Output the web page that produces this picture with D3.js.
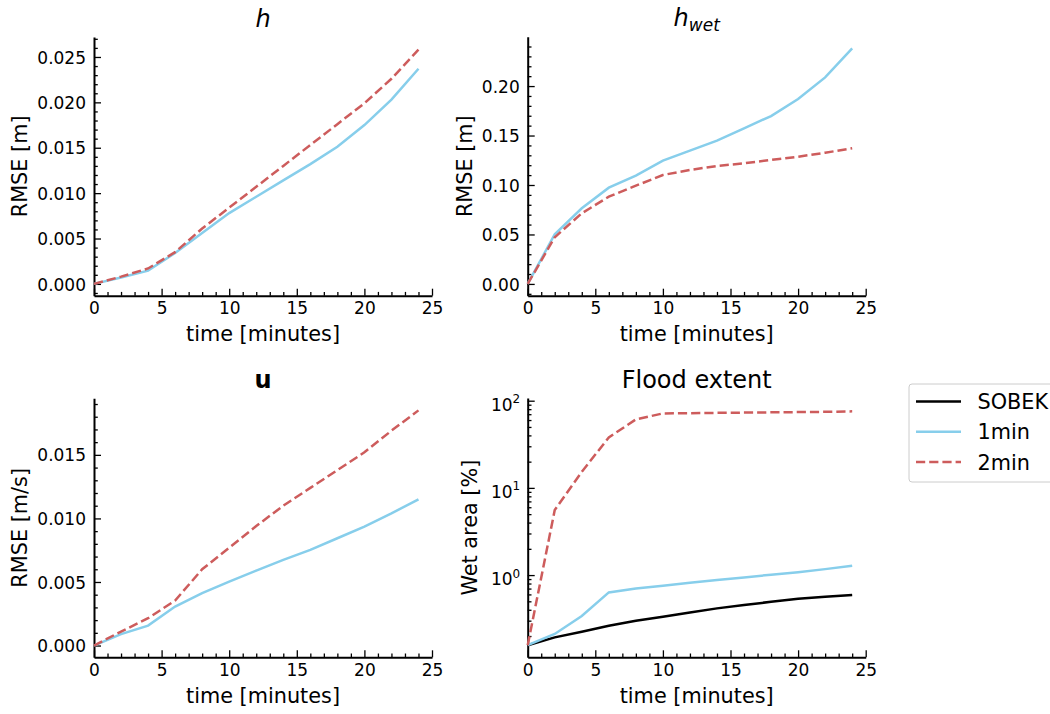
<!DOCTYPE html>
<html>
<head>
<meta charset="utf-8">
<script src="https://cdn.jsdelivr.net/npm/d3@7"></script>
<style>
  body { margin: 0; background: #fff; }
  svg text { font-family: "DejaVu Sans", sans-serif; fill: #000; }
</style>
</head>
<body>
<svg id="chart" width="1050" height="714"></svg>
<script>
// ------------------------------------------------------------
// data
// ------------------------------------------------------------
const times = [0, 2, 4, 6, 8, 10, 12, 14, 16, 18, 20, 22, 24];

const hOneMin = [0, 0.0007, 0.00146, 0.0034, 0.0056, 0.0078, 0.0096, 0.0114, 0.0132, 0.0151, 0.0175, 0.0203, 0.0237];
const hTwoMin = [0, 0.0008, 0.0017, 0.0035, 0.0061, 0.0084, 0.0107, 0.0130, 0.0153, 0.0176, 0.0199, 0.0226, 0.0258];

const hwetOneMin = [0, 0.0502, 0.0765, 0.0973, 0.1094, 0.1246, 0.1347, 0.1448, 0.1573, 0.1697, 0.1869, 0.2088, 0.238];
const hwetTwoMin = [0, 0.0472, 0.0714, 0.0882, 0.0993, 0.1101, 0.1152, 0.1192, 0.1219, 0.1253, 0.1286, 0.1326, 0.1371];

const uOneMin = [0, 0.0009, 0.00157, 0.00307, 0.00412, 0.00503, 0.0059, 0.00674, 0.00752, 0.00844, 0.00936, 0.0104, 0.0115];
const uTwoMin = [0, 0.0011, 0.00215, 0.00354, 0.0060, 0.0077, 0.0094, 0.0110, 0.0124, 0.0138, 0.0152, 0.0169, 0.0185];

const extentSobek = [0.157, 0.193, 0.224, 0.262, 0.299, 0.333, 0.373, 0.415, 0.453, 0.494, 0.535, 0.564, 0.59];
const extentOneMin = [0.157, 0.211, 0.339, 0.633, 0.703, 0.755, 0.817, 0.877, 0.94, 1.01, 1.08, 1.17, 1.28];
const extentTwoMin = [0.157, 5.57, 15.3, 37.9, 61, 71.5, 72, 72.5, 73, 73.5, 74, 74.5, 75.5];

const xTicks = [0, 5, 10, 15, 20, 25];
const hTicks = [0, 0.005, 0.01, 0.015, 0.02, 0.025];
const hwetTicks = [0, 0.05, 0.1, 0.15, 0.2];
const uTicks = [0, 0.005, 0.01, 0.015];
const extentTicks = [1, 10, 100];

const seriesNames = ['SOBEK', '1min', '2min'];
const seriesColors = { SOBEK: '#000000', '1min': '#87ceeb', '2min': '#cd5c5c' };

// ------------------------------------------------------------
// drawing
// ------------------------------------------------------------
const svg = d3.select('#chart');
const FONT = '"DejaVu Sans", sans-serif';
const LINE_W = 2.5;
const DASH = '9.2,4';

function styleAxis(g, fontSize) {
  g.attr('font-family', FONT).attr('font-size', fontSize);
  g.select('.domain').attr('stroke', '#000').attr('stroke-width', 2);
  g.selectAll('.tick line').attr('stroke', '#000').attr('stroke-width', 1.3);
  g.selectAll('.tick text').attr('fill', '#000');
}

function drawPanel(p) {
  const g = svg.append('g');

  const x = d3.scaleLinear().domain([0, 25]).range([p.left, p.right]);
  const y = (p.log ? d3.scaleLog() : d3.scaleLinear()).domain(p.yDomain).range([p.bottom, p.top]);

  // minor ticks first (drawn under majors)
  const xMinor = d3.range(0, 26).filter((d) => d % 5 !== 0);
  g.append('g')
    .attr('transform', `translate(0,${p.bottom})`)
    .call(d3.axisBottom(x).tickValues(xMinor).tickSize(-3.8).tickFormat(''))
    .call((a) => { a.select('.domain').remove(); styleAxis(a, 17); });

  g.append('g')
    .attr('transform', `translate(${p.left},0)`)
    .call(d3.axisLeft(y).tickValues(p.yMinor).tickSize(-3.8).tickFormat(''))
    .call((a) => { a.select('.domain').remove(); styleAxis(a, 17); });

  // major x axis
  g.append('g')
    .attr('transform', `translate(0,${p.bottom})`)
    .call(d3.axisBottom(x).tickValues(xTicks).tickSize(-7).tickSizeOuter(0).tickPadding(6.5).tickFormat(d3.format('d')))
    .call((a) => styleAxis(a, 17));

  // major y axis
  const yAxis = g.append('g')
    .attr('transform', `translate(${p.left},0)`)
    .call(d3.axisLeft(y).tickValues(p.yTicks).tickSize(-7).tickSizeOuter(0).tickPadding(p.log ? 7.5 : 8)
      .tickFormat(p.log ? () => '' : d3.format(p.fmt)))
    .call((a) => styleAxis(a, 17));

  if (p.log) {
    yAxis.selectAll('.tick text').each(function (d) {
      const t = d3.select(this).attr('dy', 9.3);
      t.append('tspan').text('10');
      t.append('tspan').attr('dy', -7.3).attr('font-size', 12).text(Math.round(Math.log10(d)));
    });
  } else {
    yAxis.selectAll('.tick text').attr('dy', '0.36em');
  }

  // lines
  p.series.forEach((s) => {
    const line = d3.line().x((d, i) => x(times[i])).y((d) => y(d));
    g.append('path')
      .datum(s.values)
      .attr('fill', 'none')
      .attr('stroke', seriesColors[s.name])
      .attr('stroke-width', LINE_W)
      .attr('stroke-dasharray', s.name === '2min' ? DASH : null)
      .attr('d', line);
  });

  // title
  const title = g.append('text')
    .attr('x', (p.left + p.right) / 2)
    .attr('y', p.top - 10.5)
    .attr('text-anchor', 'middle')
    .attr('font-size', 24);
  p.title(title);

  // axis labels
  g.append('text')
    .attr('x', (p.left + p.right) / 2)
    .attr('y', p.bottom + 45.5)
    .attr('text-anchor', 'middle')
    .attr('font-size', 20.8)
    .text('time [minutes]');

  g.append('text')
    .attr('transform', `translate(${p.yLabelX},${(p.top + p.bottom) / 2}) rotate(-90)`)
    .attr('text-anchor', 'middle')
    .attr('font-size', 20.8)
    .text(p.yLabel);
}

const minorLinear = (step, lo, hi) =>
  d3.range(Math.ceil(lo / step), Math.floor(hi / step) + 1)
    .filter((k) => k % 5 !== 0)
    .map((k) => k * step);

const minorLog = (lo, hi) => {
  const out = [];
  [-1, 0, 1].forEach((e) => d3.range(2, 10).forEach((m) => out.push(m * Math.pow(10, e))));
  return out.filter((v) => v >= lo && v <= hi);
};

drawPanel({
  left: 94, right: 432, top: 37, bottom: 295.7,
  yDomain: [-0.0013, 0.0272], yTicks: hTicks, fmt: '.3f',
  yMinor: minorLinear(0.001, -0.0013, 0.0272),
  yLabel: 'RMSE [m]', yLabelX: 26.5,
  title: (t) => t.attr('font-style', 'italic').text('h'),
  series: [{ name: '1min', values: hOneMin }, { name: '2min', values: hTwoMin }]
});

drawPanel({
  left: 527.7, right: 865.7, top: 36.7, bottom: 295.7,
  yDomain: [-0.0119, 0.2499], yTicks: hwetTicks, fmt: '.2f',
  yMinor: minorLinear(0.01, -0.0119, 0.2499),
  yLabel: 'RMSE [m]', yLabelX: 471.7,
  title: (t) => {
    t.attr('font-style', 'italic');
    t.append('tspan').text('h');
    t.append('tspan').attr('dy', 5).attr('font-size', 17).text('wet');
  },
  series: [{ name: '1min', values: hwetOneMin }, { name: '2min', values: hwetTwoMin }]
});

drawPanel({
  left: 94, right: 432, top: 398.3, bottom: 657.3,
  yDomain: [-0.000925, 0.01945], yTicks: uTicks, fmt: '.3f',
  yMinor: minorLinear(0.001, -0.000925, 0.01945),
  yLabel: 'RMSE [m/s]', yLabelX: 26.5,
  title: (t) => t.attr('font-weight', 'bold').text('u'),
  series: [{ name: '1min', values: uOneMin }, { name: '2min', values: uTwoMin }]
});

drawPanel({
  left: 527.7, right: 865.7, top: 398, bottom: 657.3, log: true,
  yDomain: [0.114, 107.4], yTicks: extentTicks,
  yMinor: minorLog(0.114, 107.4),
  yLabel: 'Wet area [%]', yLabelX: 477,
  title: (t) => t.text('Flood extent'),
  series: [
    { name: 'SOBEK', values: extentSobek },
    { name: '1min', values: extentOneMin },
    { name: '2min', values: extentTwoMin }
  ]
});

// legend
const legend = svg.append('g').attr('transform', 'translate(909,384)');
legend.append('rect')
  .attr('width', 160).attr('height', 98)
  .attr('rx', 3)
  .attr('fill', '#fff')
  .attr('stroke', '#cccccc')
  .attr('stroke-width', 1);

seriesNames.forEach((name, i) => {
  const rowY = 17.5 + i * 30.3;
  legend.append('line')
    .attr('x1', 7).attr('x2', 52)
    .attr('y1', rowY).attr('y2', rowY)
    .attr('stroke', seriesColors[name])
    .attr('stroke-width', LINE_W)
    .attr('stroke-dasharray', name === '2min' ? DASH : null);
  legend.append('text')
    .attr('x', 68.5).attr('y', rowY)
    .attr('dy', '0.36em')
    .attr('font-size', 20.8)
    .text(name);
});
</script>
</body>
</html>
